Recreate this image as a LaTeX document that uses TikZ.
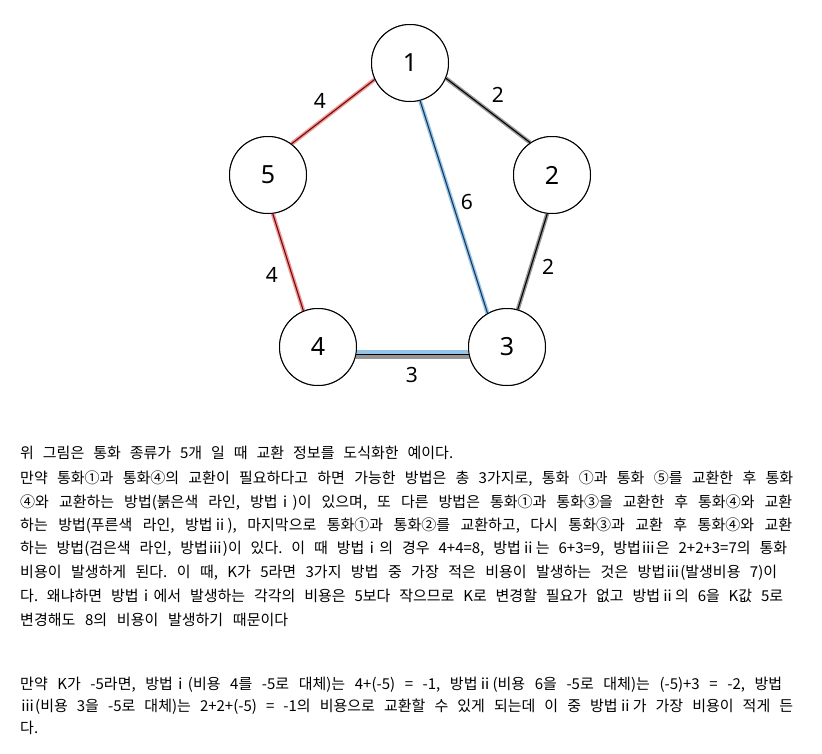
\documentclass[tikz,border=0pt]{standalone}
\usepackage{fontspec}
\setmainfont{Noto Sans}
\newfontfamily\krfont{Noto Sans CJK KR}
\definecolor{pinkhalo}{RGB}{242,150,150}
\definecolor{redcore}{RGB}{110,10,10}
\definecolor{bluehalo}{RGB}{150,196,230}
\definecolor{bluecore}{RGB}{20,55,95}
\definecolor{greyhalo}{RGB}{150,150,150}
\tikzset{
  vert/.style={circle, draw=black, line width=1pt, fill=white, minimum size=77pt, inner sep=0pt, font=\fontsize{25}{25}\selectfont},
  elabel/.style={inner sep=0pt, font=\fontsize{21}{21}\selectfont},
  halo/.style={line width=4pt},
  core/.style={line width=1.1pt},
  txt/.style={anchor=west, inner sep=0pt, font=\krfont\fontsize{15}{15}\selectfont\frenchspacing},
}
\begin{document}
\begin{tikzpicture}[x=1pt,y=-1pt]
\useasboundingbox (0,0) rectangle (822,753);
% vertices
\node[vert] (n1) at (410,63) {1};
\node[vert] (n2) at (552,175) {2};
\node[vert] (n5) at (268,175) {5};
\node[vert] (n4) at (318,347) {4};
\node[vert] (n3) at (507,347) {3};
% edges (halos first)
\draw[halo, pinkhalo] (n1.205) -- (n5.53);
\draw[halo, pinkhalo] (n5.-83) -- (n4.112);
\draw[halo, bluehalo] (n1.-75) -- (n3.120);
\draw[halo, greyhalo] (n1.-23) -- (n2.124);
\draw[halo, greyhalo] (n2.-97) -- (n3.74);
\draw[halo, bluehalo, line width=4.5pt, transform canvas={yshift=2.6pt}] (n4.-11) -- (n3.191);
\draw[halo, greyhalo, transform canvas={yshift=-3pt}] (n4.-11) -- (n3.191);
\draw[core, redcore] (n1.205) -- (n5.53);
\draw[core, redcore] (n5.-83) -- (n4.112);
\draw[core, bluecore] (n1.-75) -- (n3.120);
\draw[core, black] (n1.-23) -- (n2.124);
\draw[core, black] (n2.-97) -- (n3.74);
\draw[core, black] (n4.-11) -- (n3.191);
% redraw vertices on top
\node[vert] at (n1) {1};
\node[vert] at (n2) {2};
\node[vert] at (n5) {5};
\node[vert] at (n4) {4};
\node[vert] at (n3) {3};
% edge labels
\node[elabel] (l15) at (320,101) {4};
\node[elabel] (l12) at (498,95) {2};
\node[elabel] (l13) at (467,202) {6};
\node[elabel] (l23) at (548,267) {2};
\node[elabel] (l54) at (272,275) {4};
\node[elabel] (l43) at (412,375) {3};
% text
\node[txt] (t0) at (20,453) {\makebox[433pt][s]{위 그림은 통화 종류가 5개 일 때 교환 정보를 도식화한 예이다.}};
\node[txt] (t1) at (20,479) {\makebox[773pt][s]{만약 통화①과 통화④의 교환이 필요하다고 하면 가능한 방법은 총 3가지로, 통화 ①과 통화 ⑤를 교환한 후 통화}};
\node[txt] (t2) at (20,503) {\makebox[772pt][s]{④와 교환하는 방법(붉은색 라인, 방법ⅰ)이 있으며, 또 다른 방법은 통화①과 통화③을 교환한 후 통화④와 교환}};
\node[txt] (t3) at (20,526) {\makebox[772pt][s]{하는 방법(푸른색 라인, 방법ⅱ), 마지막으로 통화①과 통화②를 교환하고, 다시 통화③과 교환 후 통화④와 교환}};
\node[txt] (t4) at (20,549) {\makebox[767pt][s]{하는 방법(검은색 라인, 방법ⅲ)이 있다. 이 때 방법ⅰ의 경우 4+4=8, 방법ⅱ는 6+3=9, 방법ⅲ은 2+2+3=7의 통화}};
\node[txt] (t5) at (20,573) {\makebox[757pt][s]{비용이 발생하게 된다. 이 때, K가 5라면 3가지 방법 중 가장 적은 비용이 발생하는 것은 방법ⅲ(발생비용 7)이}};
\node[txt] (t6) at (20,596) {\makebox[763pt][s]{다. 왜냐하면 방법ⅰ에서 발생하는 각각의 비용은 5보다 작으므로 K로 변경할 필요가 없고 방법ⅱ의 6을 K값 5로}};
\node[txt] (t7) at (20,620) {\makebox[268pt][s]{변경해도 8의 비용이 발생하기 때문이다}};
\node[txt] (t8) at (20,685) {\makebox[762pt][s]{만약 K가 -5라면, 방법ⅰ(비용 4를 -5로 대체)는 4+(-5) = -1, 방법ⅱ(비용 6을 -5로 대체)는 (-5)+3 = -2, 방법}};
\node[txt] (t9) at (20,707) {\makebox[773pt][s]{ⅲ(비용 3을 -5로 대체)는 2+2+(-5) = -1의 비용으로 교환할 수 있게 되는데 이 중 방법ⅱ가 가장 비용이 적게 든}};
\node[txt] (t10) at (20,728) {다.};
\end{tikzpicture}
\end{document}
